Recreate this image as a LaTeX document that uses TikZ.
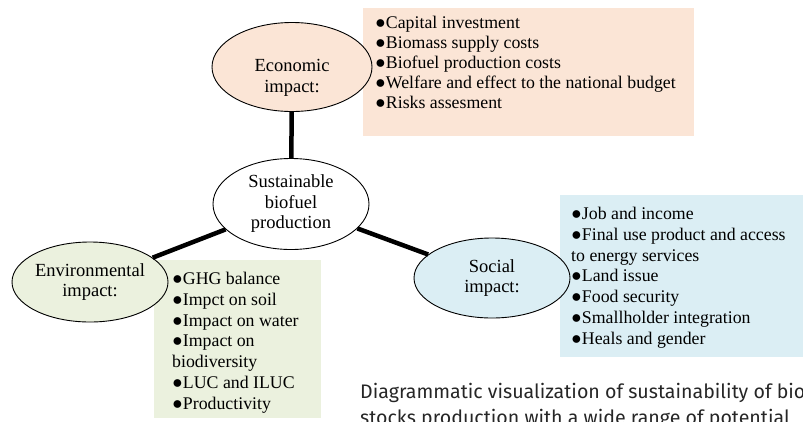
\documentclass[tikz,border=0pt]{standalone}
\usepackage{fontspec}
\setmainfont{Liberation Serif}
\newfontfamily\capfont{Fira Sans}
\usepackage{xcolor}
\usetikzlibrary{shapes.geometric, positioning}

\definecolor{econfill}{HTML}{FBE5D6}
\definecolor{envfill}{HTML}{EBF1DE}
\definecolor{socfill}{HTML}{DBEEF4}
\newcommand{\itm}{●}

\begin{document}
\begin{tikzpicture}[
        x=1pt, y=-1pt,
        impact/.style={ellipse, draw=black, line width=0.9pt, inner sep=0pt, minimum width=156pt, minimum height=82pt, align=center, font=\fontsize{18.5}{20.5}\selectfont},
        listbox/.style={rectangle, inner sep=0pt, anchor=north west},
        listtext/.style={anchor=north west, inner sep=0pt, align=left, font=\fontsize{17.8}{20.8}\selectfont},
        link/.style={line width=4.5pt, black}
    ]
    \useasboundingbox (0,0) rectangle (803,421);
    \clip (0,0) rectangle (803,421);

    % List boxes
    \node[listbox, fill=econfill, minimum width=331pt, minimum height=128pt] (econbox) at (363,8) {};
    \node[listbox, fill=envfill, minimum width=167pt, minimum height=158pt] (envbox) at (154,260) {};
    \node[listbox, fill=socfill, minimum width=250pt, minimum height=162pt] (socbox) at (560,195) {};

    % List texts
    \node[listtext, font=\fontsize{17.8}{20}\selectfont] (econlist) at ([xshift=12pt, yshift=-8pt]econbox.north west)
        {\itm Capital investment\\\itm Biomass supply costs\\\itm Biofuel production costs\\\itm Welfare and effect to the national budget\\\itm Risks assesment};
    \node[listtext] (envlist) at ([xshift=18pt, yshift=-12pt]envbox.north west)
        {\itm GHG balance\\\itm Impct on soil\\\itm Impact on water\\\itm Impact on\\biodiversity\\\itm LUC and ILUC\\\itm Productivity};
    \node[listtext] (soclist) at ([xshift=11pt, yshift=-12pt]socbox.north west)
        {\itm Job and income\\\itm Final use product and access\\to energy services\\\itm Land issue\\\itm Food security\\\itm Smallholder integration\\\itm Heals and gender};

    % Impact ellipses
    \node[impact, fill=white, minimum height=91pt] (central) at (291,204) {Sustainable\\biofuel\\production};
    \node[impact, fill=econfill, minimum width=160pt, minimum height=89pt,
        label={[align=center, font=\fontsize{18.5}{20.5}\selectfont, yshift=-11pt]center:Economic\\impact:}] (econ) at (292,67) {};
    \node[impact, fill=envfill, minimum height=80pt] (env) at (90,282) {Environmental\\impact:};
    \node[impact, fill=socfill, minimum height=80pt] (soc) at (492,278) {Social\\impact:};

    % Connections
    \draw[link] (central) -- (econ);
    \draw[link] (central) -- (env);
    \draw[link] (central) -- (soc);

    % Caption
    \node[anchor=base west, inner sep=0pt, align=left, font=\capfont\fontsize{19.6}{26}\selectfont, text=black!85] (caption) at (360,424)
        {Diagrammatic visualization of sustainability of bio\\stocks production with a wide range of potential};

\end{tikzpicture}
\end{document}
